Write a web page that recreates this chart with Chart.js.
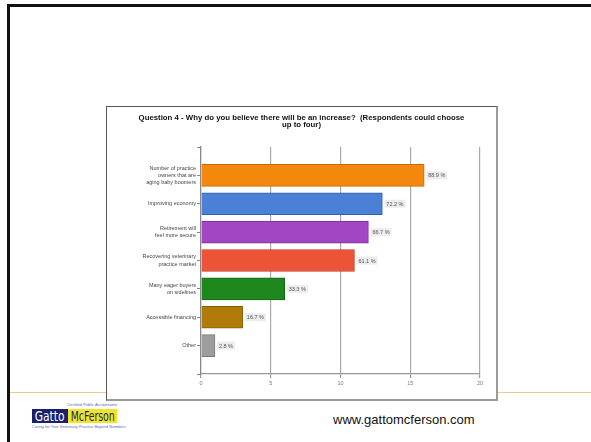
<!DOCTYPE html>
<html>
<head>
<meta charset="utf-8">
<script src="https://cdn.jsdelivr.net/npm/chart.js@4"></script>
<style>
    html, body { margin: 0; padding: 0; background: #fff; }
    body { width: 591px; height: 442px; position: relative; overflow: hidden; font-family: "Liberation Sans", Arial, sans-serif; }
    #slideFrame { position: absolute; left: 7px; top: 4px; width: 620px; height: 480px; border-top: 3px solid #111; border-left: 3px solid #111; }
    #footLine { position: absolute; left: 10px; top: 392px; width: 581px; height: 1px; background: #f6c38f; }
    #chartBox { position: absolute; left: 106px; top: 106px; width: 389px; height: 292px; background: #fff;
        border-left: 1px solid #555; border-top: 1px solid #555; border-right: 2px solid #9a9a9a; border-bottom: 2px solid #9a9a9a; }
    #logo { position: absolute; left: 32px; top: 401px; width: 85px; }
    #logo .cpa { font-size: 4px; color: #5a66b8; text-align: right; line-height: 8px; }
    #logo .name { display: flex; height: 14px; font-family: "Liberation Sans Narrow", "DejaVu Sans Condensed", sans-serif; font-size: 14px; line-height: 14px; overflow: hidden; white-space: nowrap; }
    #logo .gatto { background: #1b1f6e; color: #fff; width: 36px; text-align: center; }
    #logo .mcf { background: #f1e326; color: #1b1f6e; width: 49px; text-align: center; }
    #logo .mcf span { display: inline-block; transform: scaleX(0.74); transform-origin: center; margin: 0 -10px; }
    #logo .gatto span { display: inline-block; transform: scaleX(0.85); transform-origin: center; margin: 0 -4px; }
    #logo .tag { font-size: 4px; color: #5a66b8; line-height: 7px; white-space: nowrap; }
    #site { position: absolute; left: 333px; top: 412px; font-size: 13px; color: #111; }
</style>
</head>
<body>
<div id="slideFrame"></div>
<div id="footLine"></div>
<div id="chartBox"><canvas id="reasonsChart" width="389" height="292"></canvas></div>
<div id="logo">
    <div class="cpa">Certified Public Accountants</div>
    <div class="name"><span class="gatto"><span>Gatto</span></span><span class="mcf"><span>McFerson</span></span></div>
    <div class="tag">Caring for Your Veterinary Practice Beyond Numbers</div>
</div>
<div id="site">www.gattomcferson.com</div>

<script>
// answers, top to bottom
const categories = [
    ["Number of practice", "owners that are", "aging baby boomers"],
    ["Improving economy"],
    ["Retirement will", "feel more secure"],
    ["Recovering veterinary", "practice market"],
    ["Many eager buyers", "on sidelines"],
    ["Accessible financing"],
    ["Other"]
];
const responses = [16, 13, 12, 11, 6, 3, 1];
const percentLabels = ["88.9 %", "72.2 %", "66.7 %", "61.1 %", "33.3 %", "16.7 %", "2.8 %"];
const xTicks = [0, 5, 10, 15, 20];
const titleLines = ["Question 4 - Why do you believe there will be an increase?  (Respondents could choose", "up to four)"];

const barColors = ["#f4870e", "#4c7fd6", "#a246c4", "#ec5337", "#1e881f", "#b07b0b", "#9d9d9d"];
const barBorders = ["#c96a00", "#3060b0", "#7d2c9c", "#c33a22", "#106810", "#8a5e00", "#7a7a7a"];

// bars sit at positions 1..7 on a 0..8 axis so there is a full slot above and below
const points = responses.map((v, i) => ({ x: v, y: i + 1 }));

// title centred on the whole canvas, not just the padded layout box
const centredTitle = {
    id: "centredTitle",
    afterDraw(chart) {
        const ctx = chart.ctx;
        ctx.save();
        ctx.font = "bold 7.8px 'Liberation Sans', Arial, sans-serif";
        ctx.fillStyle = "#111";
        ctx.textAlign = "center";
        ctx.textBaseline = "middle";
        titleLines.forEach((line, i) => ctx.fillText(line, chart.width / 2, 10.5 + i * 7));
        ctx.restore();
    }
};

// small grey boxes with the percentage next to each bar
const percentTags = {
    id: "percentTags",
    afterDatasetsDraw(chart) {
        const ctx = chart.ctx;
        const meta = chart.getDatasetMeta(0);
        ctx.save();
        ctx.font = "5.5px 'Liberation Sans', Arial, sans-serif";
        ctx.textBaseline = "middle";
        meta.data.forEach((bar, i) => {
            const text = percentLabels[i];
            const w = ctx.measureText(text).width;
            const x = bar.x + 2;
            ctx.fillStyle = "#ececec";
            ctx.fillRect(x, bar.y - 4, w + 4, 8);
            ctx.fillStyle = "#555";
            ctx.fillText(text, x + 2, bar.y + 0.5);
        });
        ctx.restore();
    }
};

const ctx = document.getElementById("reasonsChart").getContext("2d");
new Chart(ctx, {
    type: "bar",
    data: {
        datasets: [{
            data: points,
            backgroundColor: barColors,
            borderColor: barBorders,
            borderWidth: 1,
            barThickness: 22
        }]
    },
    options: {
        indexAxis: "y",
        responsive: false,
        animation: false,
        layout: { padding: { top: 40, right: 16, left: 0, bottom: 0 } },
        plugins: {
            legend: { display: false },
            tooltip: { enabled: false },
            title: { display: false }
        },
        scales: {
            x: {
                type: "linear",
                min: 0,
                max: 20,
                afterBuildTicks: (scale) => { scale.ticks = xTicks.map(v => ({ value: v })); },
                afterFit: (scale) => { scale.height = 25; },
                grid: { color: "#aaaaaa", lineWidth: 1.2, tickLength: 4, tickColor: "#999" },
                border: { color: "#999", width: 1.2 },
                ticks: { color: "#777", padding: 2, font: { family: "'Liberation Sans', Arial, sans-serif", size: 5.5 } }
            },
            y: {
                type: "linear",
                reverse: true,
                offset: false,
                min: 0,
                max: 8,
                afterBuildTicks: (scale) => { scale.ticks = [0, 1, 2, 3, 4, 5, 6, 7, 8].map(v => ({ value: v })); },
                afterFit: (scale) => { scale.width = 94; },
                grid: { offset: false, drawOnChartArea: false, tickLength: 4, tickColor: "#888" },
                border: { color: "#888", width: 1.2 },
                ticks: {
                    color: "#444",
                    padding: 1,
                    font: { family: "'Liberation Sans', Arial, sans-serif", size: 5.5, lineHeight: 1.3 },
                    callback: (value) => (value >= 1 && value <= categories.length) ? categories[value - 1] : ""
                }
            }
        }
    },
    plugins: [percentTags, centredTitle]
});
</script>
</body>
</html>
